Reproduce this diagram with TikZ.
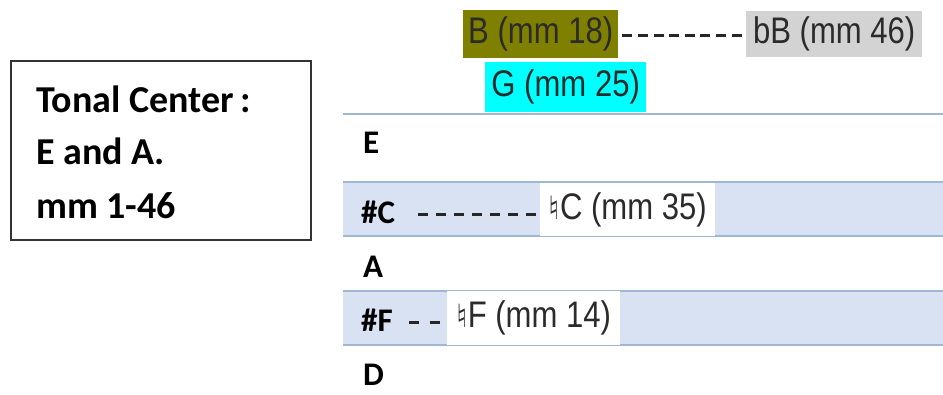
\documentclass[tikz,border=0pt]{standalone}
\usepackage{fontspec}
\setmainfont{Carlito}
\newfontfamily\hlfont[FakeStretch=0.84]{Liberation Sans}
\newfontfamily\symfont{DejaVu Sans}
\definecolor{rowfill}{HTML}{D9E2F3}
\definecolor{rowline}{HTML}{9FB6D4}
\definecolor{hltext}{HTML}{2B2B2B}
\definecolor{olivehl}{HTML}{808000}
\definecolor{hlgray}{HTML}{D3D3D3}
\definecolor{cyanhl}{HTML}{00FFFF}
\tikzset{
  lbl/.style={anchor=base west, inner sep=0pt, font=\fontsize{33}{38}\selectfont\bfseries},
  hl/.style={anchor=north west, inner sep=0pt, text=hltext, font=\hlfont\fontsize{37}{44}\selectfont},
  dashconn/.style={line width=3pt, draw=black!85},
  boxtxt/.style={anchor=base west, inner sep=0pt, font=\fontsize{38}{44}\selectfont\bfseries}
}
\begin{document}
\begin{tikzpicture}[x=1pt,y=-1pt]
\useasboundingbox (0,0) rectangle (943,394);
% left box
\node[draw=black!80, line width=1.5pt, anchor=north west, minimum width=300pt, minimum height=179pt, inner sep=0pt] (tc) at (10,60) {};
\node[boxtxt] (t1) at (36,112) {Tonal Center\,:};
\node[boxtxt] (t2) at (36,164) {E and A.};
\node[boxtxt] (t3) at (36,218) {mm 1-46};
% table rows
\fill[rowfill] (343,182) rectangle (943,236);
\fill[rowfill] (343,291) rectangle (943,345);
\foreach \yy in {114,182,236,291,345}
  \draw[rowline, line width=1.2pt] (343,\yy) -- (943,\yy);
\node[lbl] (e) at (363,153) {E};
\node[lbl] (cs) at (361,223) {\#C};
\node[lbl] (a) at (363,277) {A};
\node[lbl] (fs) at (361,331) {\#F};
\node[lbl] (d) at (363,385) {D};
% highlights
\node[hl, fill=olivehl, minimum width=155pt, minimum height=48pt] (b) at (463,10) {B (mm 18)};
\node[hl, fill=hlgray, minimum width=176pt, minimum height=46pt] (bb) at (746,11) {bB (mm 46)};
\node[hl, fill=cyanhl, minimum width=161pt, minimum height=50pt] (g) at (485,62) {G (mm 25)};
\node[hl, fill=white, minimum width=175pt, minimum height=53pt] (nc) at (540,183) {{\symfont\fontsize{32}{36}\selectfont ♮}C (mm 35)};
\node[hl, fill=white, minimum width=173pt, minimum height=54pt] (nf) at (447,291) {{\symfont\fontsize{32}{36}\selectfont ♮}F (mm 14)};
% dashed connectors
\draw[dashconn, dash pattern=on 10pt off 5.6pt] ([xshift=4pt,yshift=-1pt]b.east) -- ([yshift=-1pt]bb.west);
\draw[dashconn, dash pattern=on 10pt off 8pt] (418,214) coordinate (c0) -- (nc.west |- c0);
\draw[dashconn, dash pattern=on 10pt off 11pt] (409,322) coordinate (f0) -- (nf.west |- f0);
\end{tikzpicture}
\end{document}
